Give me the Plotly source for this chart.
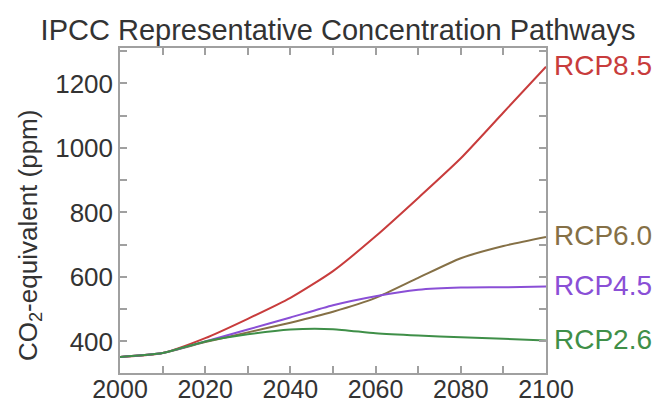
import plotly.graph_objects as go

years = [2000, 2010, 2020, 2030, 2040, 2050, 2060, 2070, 2080, 2090, 2100]
rcp85 = [352, 364, 410, 470, 535, 618, 726, 845, 968, 1110, 1252]
rcp60 = [352, 364, 398, 428, 458, 492, 535, 597, 658, 696, 724]
rcp45 = [352, 364, 400, 437, 474, 512, 540, 560, 567, 568, 570]
rcp26 = [352, 364, 400, 422, 437, 438, 425, 418, 413, 408, 403]

names = ["RCP8.5", "RCP6.0", "RCP4.5", "RCP2.6"]
series = [rcp85, rcp60, rcp45, rcp26]
colors = ["#c83c3c", "#857046", "#8a4fd6", "#3f8f48"]

FONT = "Liberation Sans, Arial, sans-serif"
TXT = "#333333"

fig = go.Figure()
for n, s, c in zip(names, series, colors):
    fig.add_trace(go.Scatter(x=years, y=s, mode="lines", name=n, hoverinfo="skip",
                             line=dict(color=c, width=2, shape="spline", smoothing=0.6)))
    fig.add_annotation(x=years[-1], y=s[-1], text=n, showarrow=False,
                       xanchor="left", xshift=6, yshift=1,
                       font=dict(family=FONT, size=28, color=c))

axis_common = dict(showline=True, linecolor="#a0a0a0", linewidth=1.5, mirror="ticks",
                   ticks="inside", ticklen=7, tickcolor="#a0a0a0", tickwidth=1.5,
                   showgrid=False, zeroline=False, automargin=False)

fig.update_layout(
    width=659, height=405,
    margin=dict(l=120, r=113, t=48, b=32),
    paper_bgcolor="white", plot_bgcolor="white",
    showlegend=False, hovermode=False,
    title=dict(text="IPCC Representative Concentration Pathways",
               x=338 / 659, xanchor="center", xref="container", y=0.926, yanchor="middle",
               font=dict(family=FONT, size=29, color=TXT)),
    xaxis=dict(range=[2000, 2100], tick0=2000, dtick=20, ticklabelstandoff=-7,
               tickfont=dict(family=FONT, size=25, color=TXT),
               minor=dict(dtick=10, ticks="inside", ticklen=7, tickcolor="#a0a0a0", tickwidth=1.5),
               **axis_common),
    yaxis=dict(range=[302, 1310], tick0=0, dtick=200,
               tickfont=dict(family=FONT, size=26, color=TXT),
               minor=dict(dtick=100, ticks="inside", ticklen=7, tickcolor="#a0a0a0", tickwidth=1.5),
               **axis_common),
)

fig.add_annotation(xref="paper", yref="paper", x=(29 - 120) / 426, y=(373 - 236) / 325,
                   text="CO<sub>2</sub>-equivalent (ppm)", textangle=-90, showarrow=False,
                   xanchor="center", yanchor="middle",
                   font=dict(family=FONT, size=26, color=TXT))

fig.write_html("out.html", config={"displayModeBar": False},
               post_script="document.body.style.margin='0';document.body.style.overflow='hidden';")
